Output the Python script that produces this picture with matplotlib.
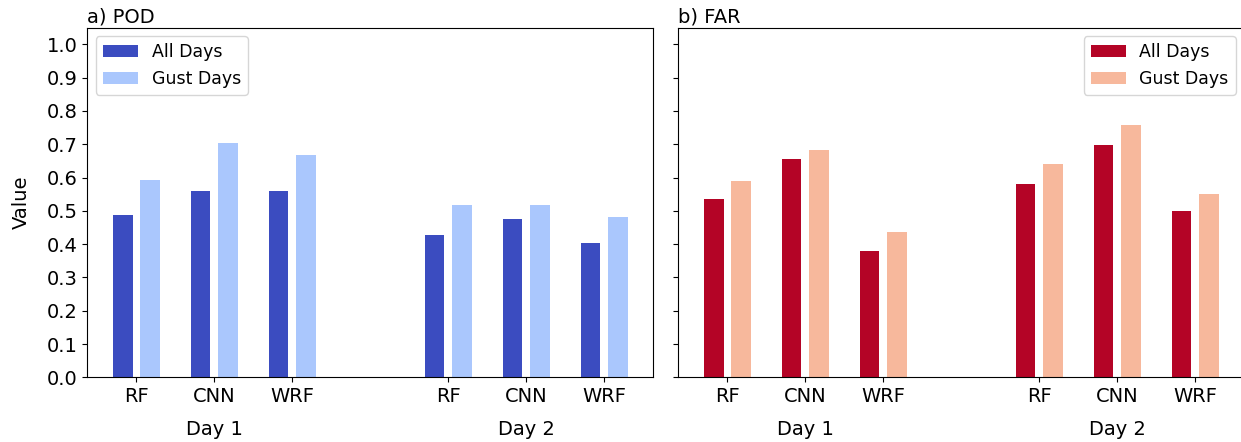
import numpy as np
import matplotlib
matplotlib.use("Agg")
import matplotlib.pyplot as plt

models = ["RF", "CNN", "WRF"]
days = ["Day 1", "Day 2"]

# POD per model, Day 1 then Day 2
pod_all = [0.487, 0.559, 0.559, 0.427, 0.475, 0.403]
pod_gust = [0.593, 0.704, 0.668, 0.518, 0.518, 0.482]

# FAR per model, Day 1 then Day 2
far_all = [0.535, 0.655, 0.379, 0.581, 0.698, 0.500]
far_gust = [0.590, 0.682, 0.436, 0.641, 0.758, 0.551]

x = np.array([0, 1, 2, 4, 5, 6])
width = 0.25
off = 0.175

fig = plt.figure(figsize=(12.41, 4.42), dpi=100)
ax1 = fig.add_axes([87.3 / 1241, 64.7 / 442, 566 / 1241, 349.6 / 442])
ax2 = fig.add_axes([678.3 / 1241, 64.7 / 442, 566 / 1241, 349.6 / 442], sharey=ax1)

panels = [
    (ax1, pod_all, pod_gust, "#3b4cc0", "#aac7fd", "a) POD", "upper left"),
    (ax2, far_all, far_gust, "#b40426", "#f7b89c", "b) FAR", "upper right"),
]

for ax, v_all, v_gust, c1, c2, title, loc in panels:
    ax.bar(x - off, v_all, width, color=c1, label="All Days")
    ax.bar(x + off, v_gust, width, color=c2, label="Gust Days")
    ax.set_xticks(x)
    ax.set_xticklabels(models * 2, fontsize=14)
    ax.set_title(title, loc="left", fontsize=14, pad=4)
    ax.legend(loc=loc, fontsize=12.5)
    for xc, d in zip([1, 5], days):
        ax.text(xc, -0.148, d, transform=ax.get_xaxis_transform(),
                ha="center", va="center", fontsize=14)

ax1.set_ylim(0, 1.05)
ax1.set_yticks(np.arange(0, 1.01, 0.1))
ax1.tick_params(axis="y", labelsize=14)
ax1.set_ylabel("Value", fontsize=14, labelpad=11)
ax2.tick_params(axis="y", labelleft=False)

fig.savefig("out.png", dpi=100)
